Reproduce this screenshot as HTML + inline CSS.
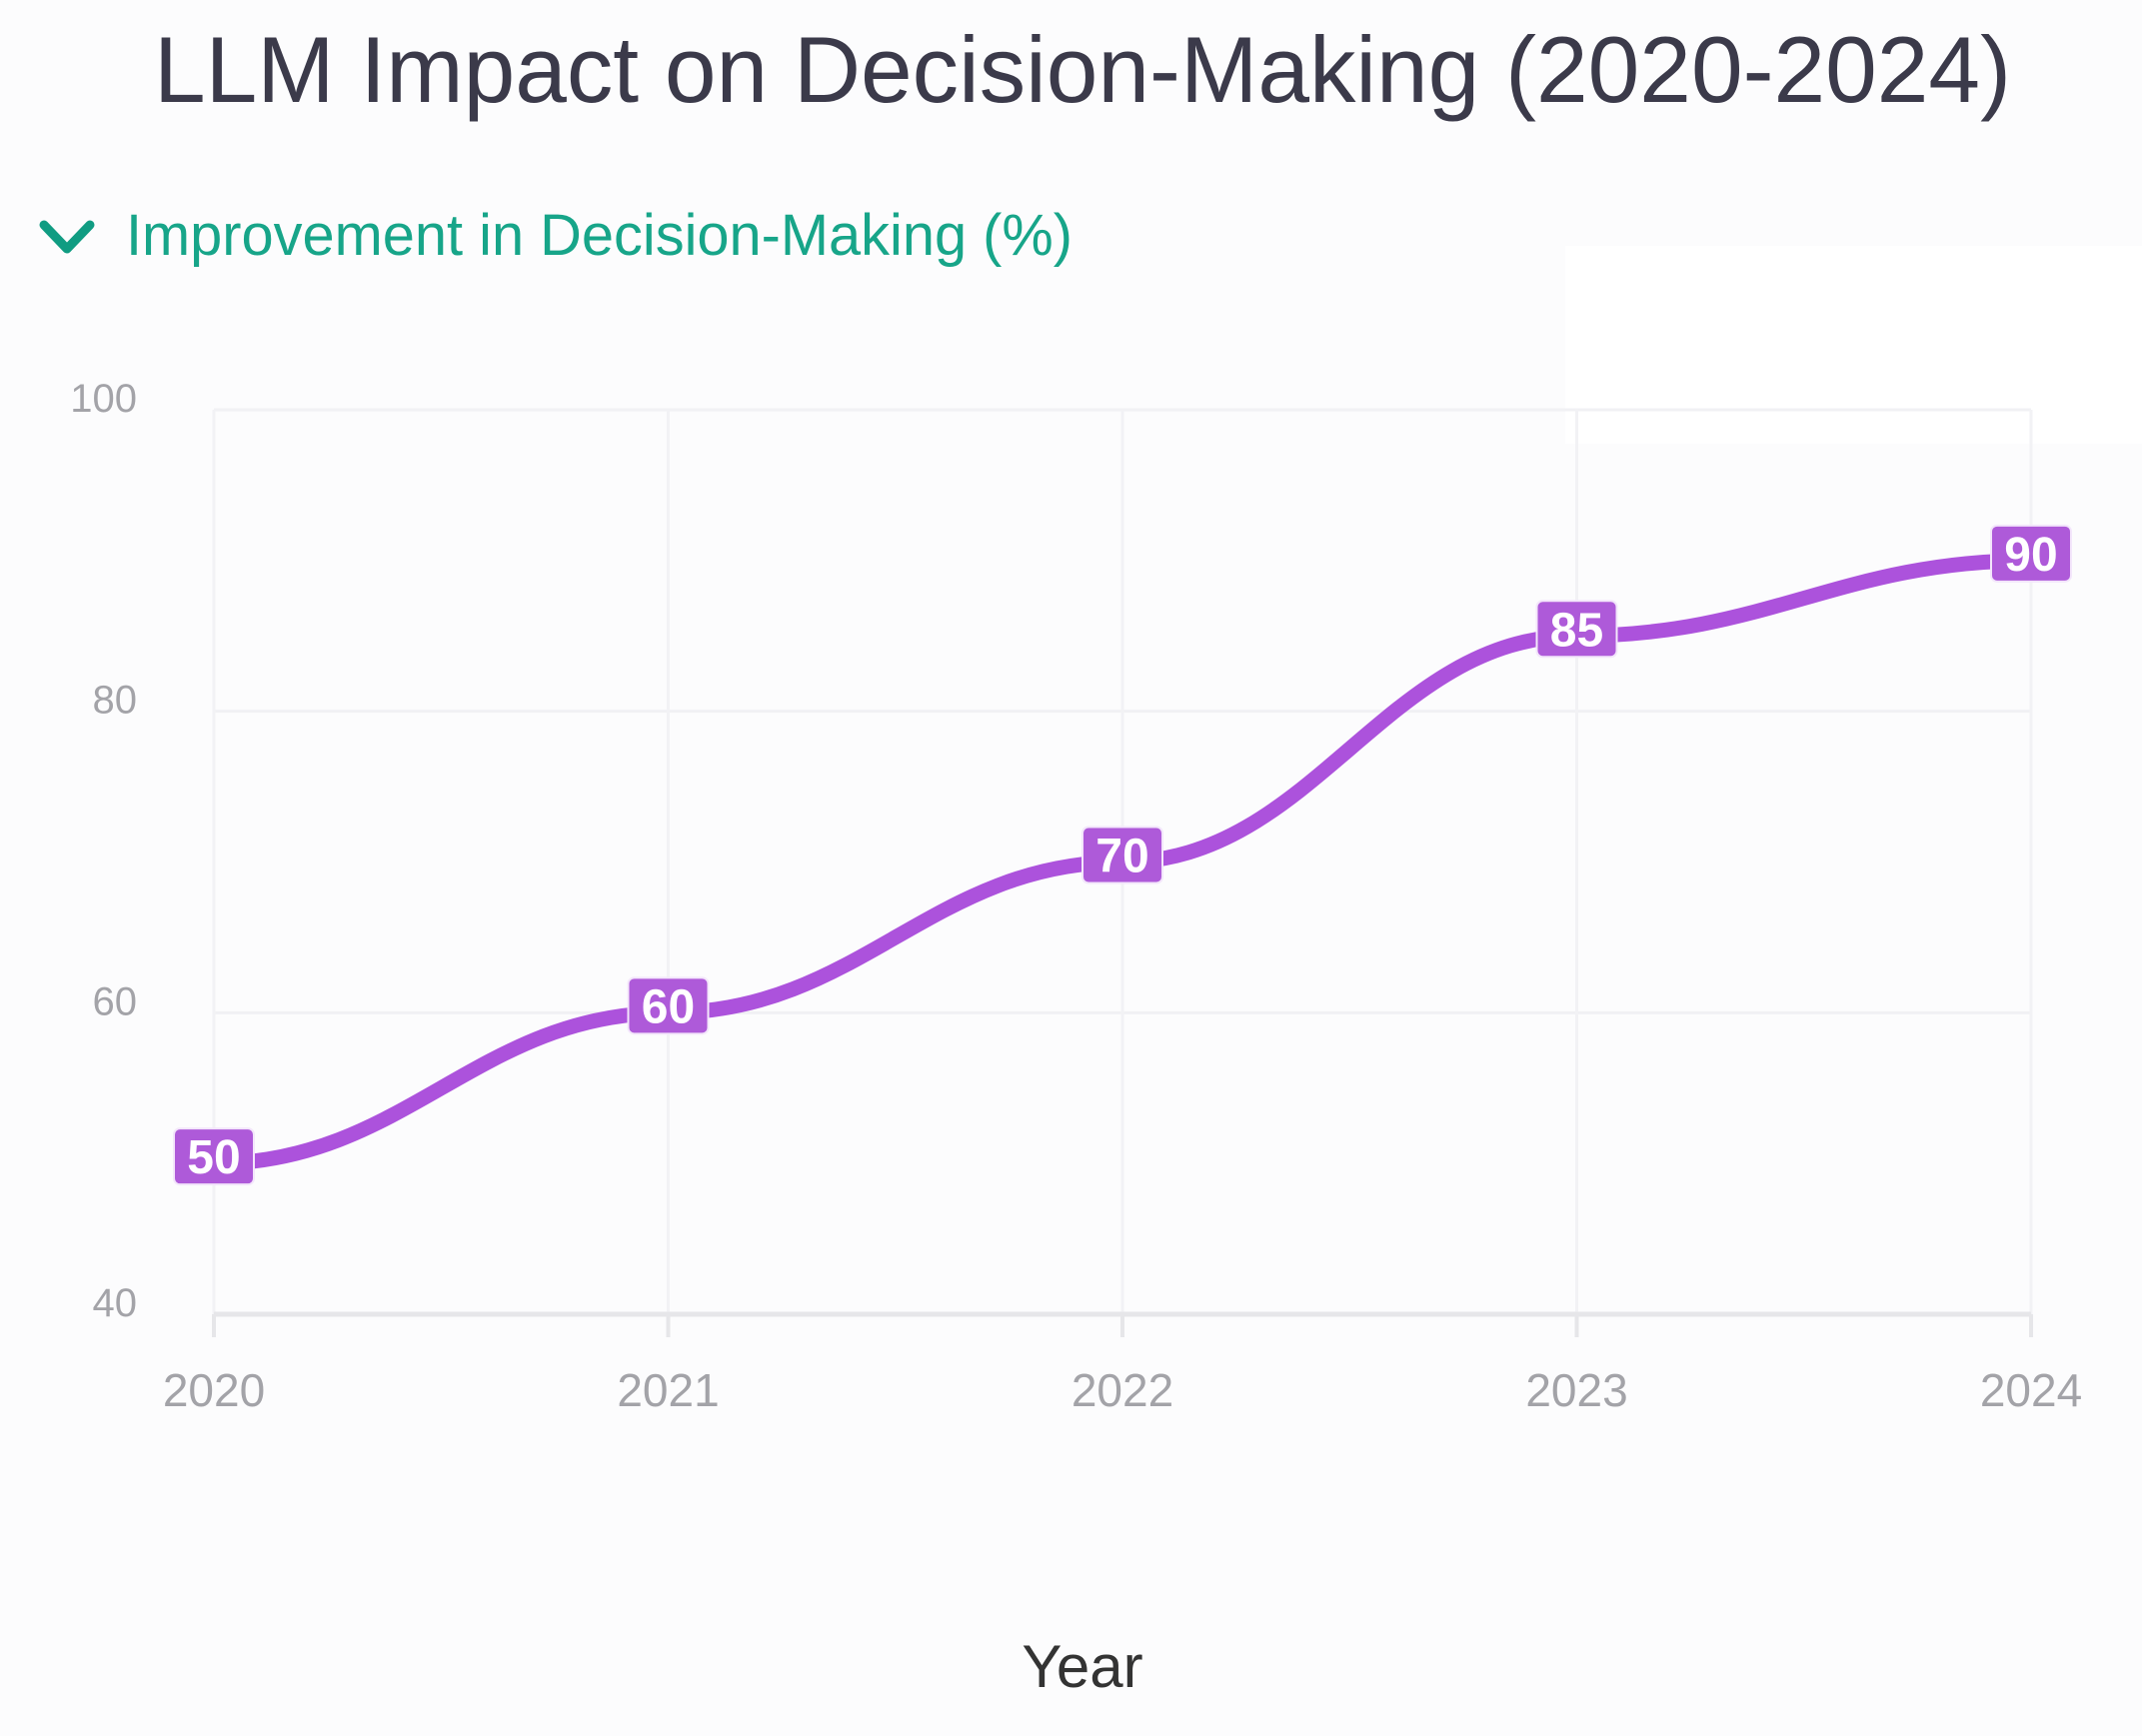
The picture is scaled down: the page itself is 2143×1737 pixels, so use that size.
<!DOCTYPE html>
<html><head><meta charset="utf-8"><style>
html,body{margin:0;padding:0;background:#fcfcfd;}
svg{display:block;font-family:"Liberation Sans",sans-serif;}
</style></head><body>
<svg id="chart" width="2143" height="1737" viewBox="0 0 2143 1737">
<rect x="0" y="0" width="2143" height="1737" fill="#fcfcfd"/>
<rect x="1566" y="246" width="577" height="198" fill="#ffffff"/>
<text x="1083" y="102" text-anchor="middle" font-size="94" fill="#3b3a4a" textLength="1858" lengthAdjust="spacingAndGlyphs">LLM Impact on Decision-Making (2020-2024)</text>
<g>
<polyline points="44,225 67,249 90,225" fill="none" stroke="#109c82" stroke-width="9" stroke-linecap="round" stroke-linejoin="round"/>
<text x="126" y="255" font-size="58" fill="#17a589" textLength="947" lengthAdjust="spacingAndGlyphs">Improvement in Decision-Making (%)</text>
</g>
<g id="grid"></g>
<g id="axes"></g>
<g id="series"></g>
<text x="1083" y="1688" text-anchor="middle" font-size="60" fill="#333">Year</text>
</svg>
<script>
const categories = ["2020","2021","2022","2023","2024"];
const values = [50, 60, 70, 85, 90];
const yTicks = [40, 60, 80, 100];

const NS = "http://www.w3.org/2000/svg";
const x0 = 214, x1 = 2032, yTop = 410, yBot = 1315, yMin = 40, yMax = 100;
function xs(i){ return x0 + (x1 - x0) * i / (categories.length - 1); }
function ys(v){ return yBot - (v - yMin) / (yMax - yMin) * (yBot - yTop); }
function mk(tag, attrs, parent){ const e = document.createElementNS(NS, tag); for (const k in attrs) e.setAttribute(k, attrs[k]); parent.appendChild(e); return e; }

const grid = document.getElementById('grid');
const axes = document.getElementById('axes');
const series = document.getElementById('series');

yTicks.forEach(t => {
  if (t !== yMin) {
    const gl = mk('line', {x1: x0, x2: x1, y1: ys(t), y2: ys(t), stroke: '#f1f1f4', 'stroke-width': 3}, grid);
    
    
  }
  const lb = mk('text', {x: 137, y: ys(t) + 2, 'text-anchor': 'end', 'font-size': 40, fill: '#a3a3a8'}, axes);
  lb.textContent = t;
  
  
});
categories.forEach((c, i) => {
  const gl = mk('line', {x1: xs(i), x2: xs(i), y1: yTop, y2: yBot, stroke: '#f2f2f5', 'stroke-width': 3}, grid);
  
  
  const tk = mk('line', {x1: xs(i), x2: xs(i), y1: yBot, y2: yBot + 23, stroke: '#e6e6e9', 'stroke-width': 4}, axes);
  
  
  const lb = mk('text', {x: xs(i), y: 1407, 'text-anchor': 'middle', 'font-size': 46, fill: '#a3a3a8'}, axes);
  lb.textContent = c;
  
  
});
const ax = mk('line', {x1: x0, x2: x1, y1: yBot, y2: yBot, stroke: '#e6e6e9', 'stroke-width': 5}, axes);



// smooth curve with flat tangents at each point
const pts = values.map((v, i) => [xs(i), ys(v)]);
let path = 'M' + pts[0][0] + ',' + pts[0][1];
for (let i = 0; i < pts.length - 1; i++) {
  const h = (pts[i+1][0] - pts[i][0]) * 0.42;
  path += ' C' + (pts[i][0] + h) + ',' + pts[i][1] + ' ' + (pts[i+1][0] - h) + ',' + pts[i+1][1] + ' ' + pts[i+1][0] + ',' + pts[i+1][1];
}
const line = mk('path', {d: path, fill: 'none', stroke: '#ac52dc', 'stroke-width': 15, 'stroke-linecap': 'round'}, series);



values.forEach((v, i) => {
  const g = mk('g', {}, series);
  
  
  const r = mk('rect', {x: xs(i) - 40, y: ys(v) - 35, width: 80, height: 56, rx: 6, fill: '#ae5ad9', stroke: '#f3e6fb', 'stroke-width': 2}, g);
  
  
  const t = mk('text', {x: xs(i), y: ys(v) + 10, 'text-anchor': 'middle', 'font-size': 48, 'font-weight': 'bold', fill: '#ffffff'}, g);
  t.textContent = v;
  
  
});
</script>
</body></html>
